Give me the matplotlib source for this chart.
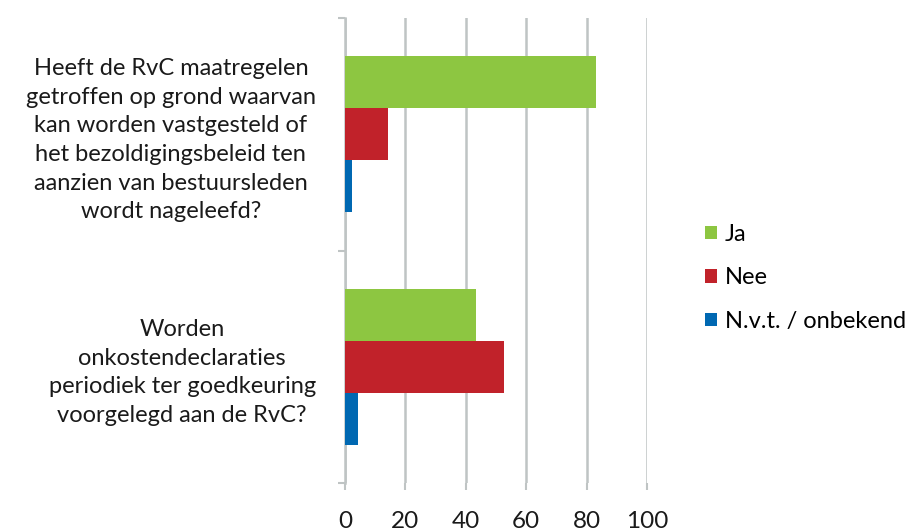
import matplotlib
matplotlib.use("Agg")
import matplotlib.pyplot as plt
import numpy as np

categories = [
    "Heeft de RvC maatregelen\ngetroffen op grond waarvan\nkan worden vastgesteld of\nhet bezoldigingsbeleid ten\naanzien van bestuursleden\nwordt nageleefd?",
    "Worden\nonkostendeclaraties\nperiodiek ter goedkeuring\nvoorgelegd aan de RvC?",
]
series_names = ["Ja", "Nee", "N.v.t. / onbekend"]
ja = [83.1, 43.4]
nee = [14.4, 52.7]
nvt = [2.4, 4.4]
colors = ["#8DC641", "#C1222A", "#0068B2"]
x_ticks = [0, 20, 40, 60, 80, 100]

plt.rcParams['font.family'] = ['Lato', 'DejaVu Sans']

fig = plt.figure(figsize=(9.15, 5.30), dpi=100)
ax = fig.add_axes([345/915, 1-483/530, (647-345)/915, (483-18)/530])

grid_c = "#BFC4C4"
h = 0.224
y = np.arange(len(categories))
for i, (vals, name, c) in enumerate(zip([ja, nee, nvt], series_names, colors)):
    ax.barh(y + (i - 1) * h, vals, height=h, color=c, label=name, zorder=3)

ax.set_xlim(0, 100)
ax.set_ylim(1.5, -0.5)
ax.set_xticks(x_ticks)
ax.set_xticklabels([str(t) for t in x_ticks], fontsize=17.5, color="#1a1a1a")
ax.xaxis.grid(True, color=grid_c, linewidth=1.8, zorder=0)
ax.tick_params(axis='x', length=5, width=1.5, color=grid_c, pad=15)

ax.set_yticks(y)
ax.set_yticklabels(categories, fontsize=17, color="#1a1a1a", multialignment='center',
                   linespacing=1.45)
ax.tick_params(axis='y', which='major', length=0, pad=21)
ax.set_yticks([-0.5, 0.5, 1.5], minor=True)
ax.tick_params(axis='y', which='minor', length=5, width=1.5, color=grid_c)

for s in ['top', 'right', 'bottom']:
    ax.spines[s].set_visible(False)
ax.spines['left'].set_color(grid_c)
ax.spines['left'].set_linewidth(1.8)

handles, labels = ax.get_legend_handles_labels()
fig.legend(handles, labels, loc='center left', bbox_to_anchor=(700/915, 1-278/530),
           frameon=False, fontsize=17, handlelength=0.5, handleheight=0.5,
           handletextpad=0.35, labelspacing=0.95, borderaxespad=0, borderpad=0.2)

fig.savefig("out.png", dpi=100)
